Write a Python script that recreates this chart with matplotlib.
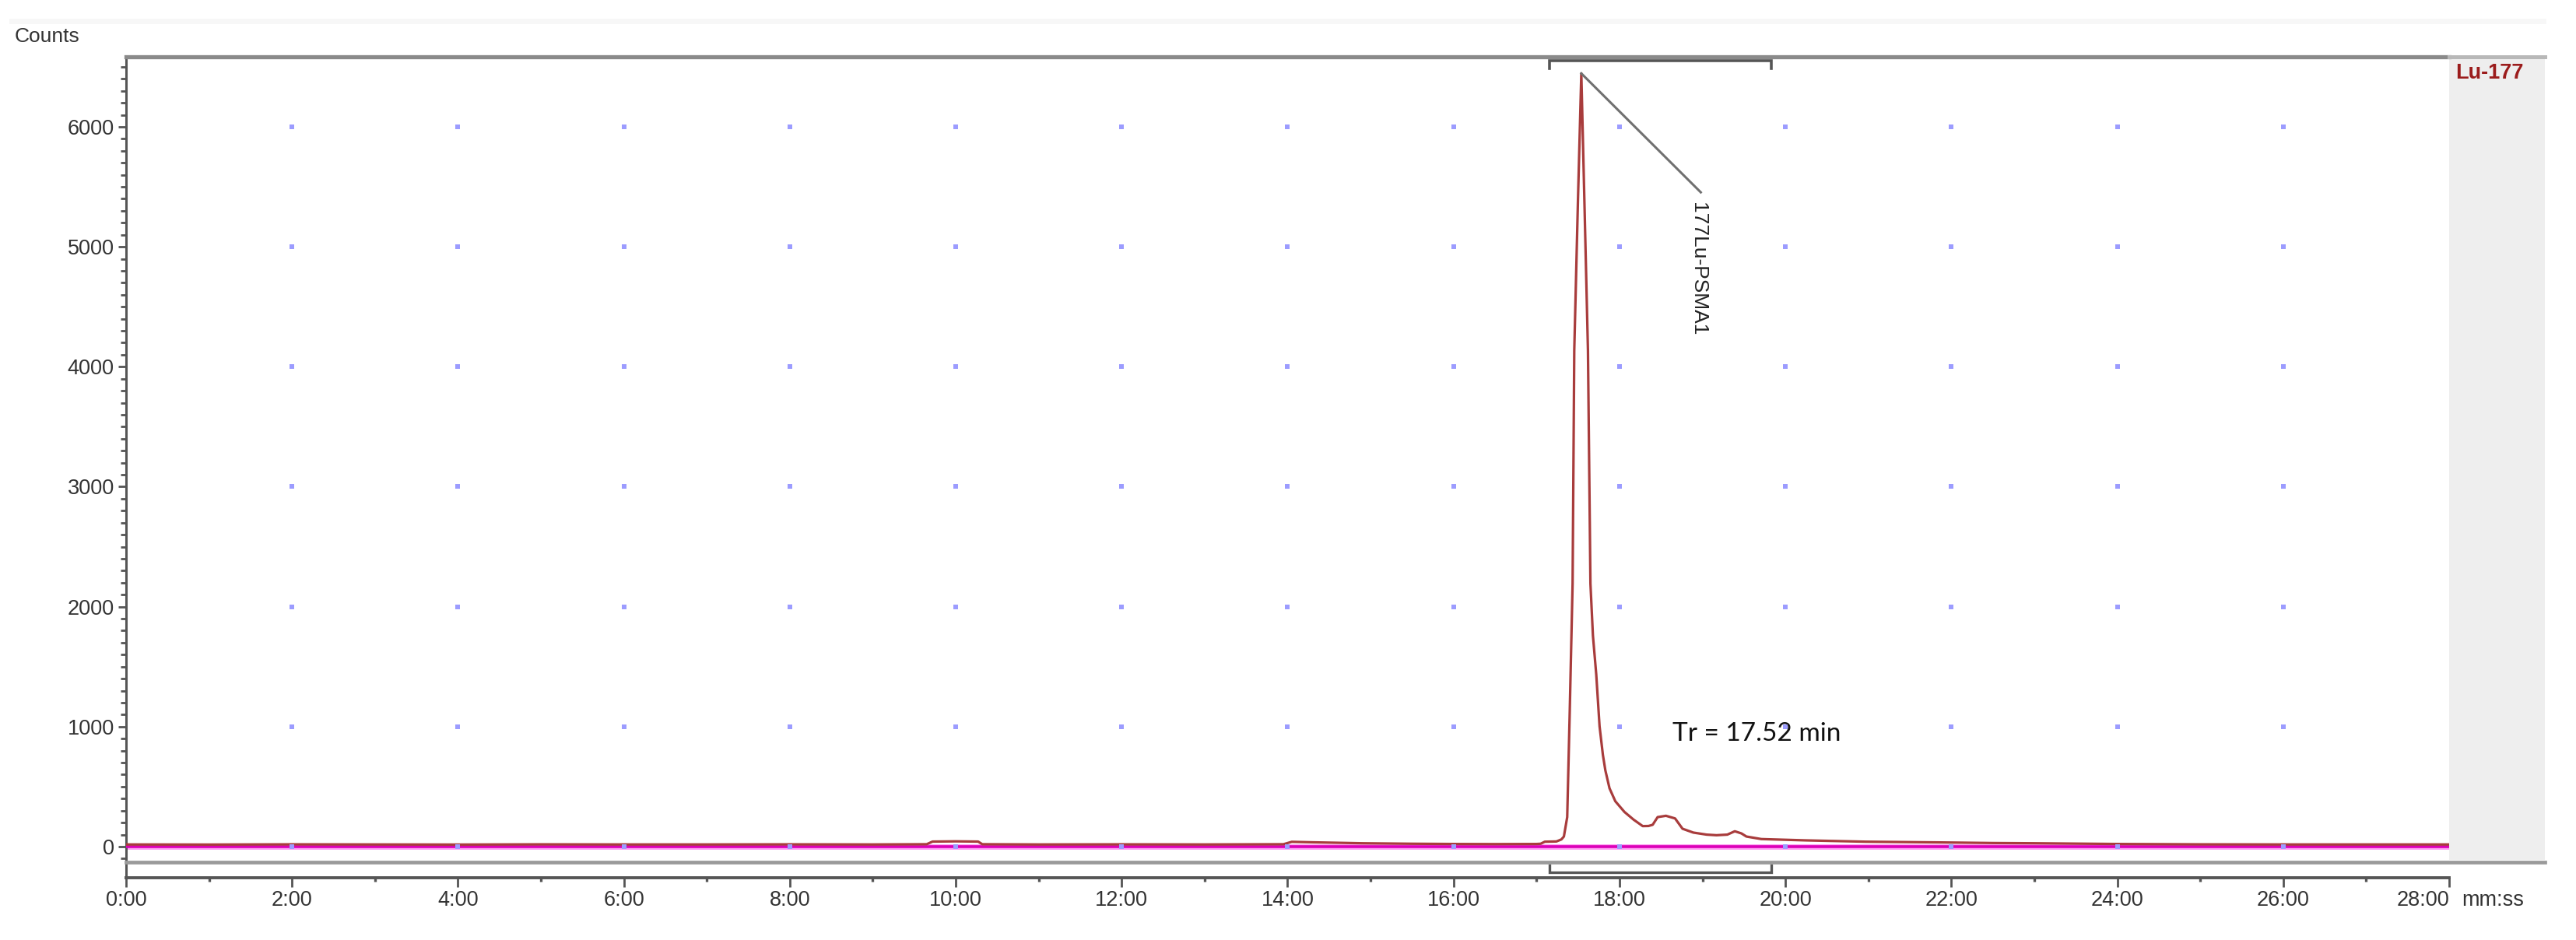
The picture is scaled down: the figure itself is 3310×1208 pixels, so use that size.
import matplotlib
matplotlib.use("Agg")
import matplotlib.pyplot as plt
from matplotlib.patches import Rectangle
from matplotlib.lines import Line2D
from matplotlib.ticker import MultipleLocator, FixedLocator

# chromatogram (time in minutes, counts)
time_min = [0.0, 1.0, 2.0, 3.0, 4.0, 5.0, 6.0, 7.0, 8.0, 9.0, 9.65, 9.72, 10.0,
            10.27, 10.32, 11.0, 12.0, 13.0, 13.95, 14.05, 14.3, 14.6, 14.9, 15.5,
            16.0, 16.5, 17.0, 17.05, 17.10, 17.24, 17.30, 17.33, 17.37, 17.40,
            17.435, 17.455, 17.50, 17.54, 17.58, 17.62, 17.65, 17.68, 17.72,
            17.76, 17.80, 17.83, 17.88, 17.95, 18.06, 18.17, 18.28, 18.35, 18.40,
            18.46, 18.56, 18.67, 18.76, 18.89, 19.05, 19.17, 19.30, 19.39, 19.47,
            19.53, 19.71, 20.25, 20.97, 21.87, 22.5, 23.0, 23.5, 24.0, 25.0,
            26.0, 27.0, 28.0]
counts = [18, 17, 19, 18, 17, 19, 18, 18, 19, 18, 20, 42, 44,
          42, 20, 18, 19, 18, 20, 40, 36, 32, 28, 24,
          22, 21, 22, 24, 41, 43, 60, 84, 246, 1111,
          2192, 4137, 5400, 6445, 5300, 4137, 2192, 1759, 1435,
          1003, 765, 635, 486, 378, 289, 225, 171, 172, 182,
          246, 257, 235, 149, 117, 100, 95, 100, 128, 110,
          84, 63, 52, 41, 35, 30, 28, 25, 22, 19,
          18, 18, 18]

baseline_t = [0.0, 28.0]
baseline_c = [0, 0]

peak_name = "177Lu-PSMA1"
peak_apex = (17.54, 6445)
peak_window = (17.16, 19.83)
tr_label = "Tr = 17.52 min"
channel = "Lu-177"

x_ticks = list(range(0, 29, 2))
x_labels = ["%d:00" % m for m in x_ticks]
y_ticks = list(range(0, 7000, 1000))
grid_x = list(range(2, 27, 2))
grid_y = list(range(0, 7000, 1000))

W, H = 3310, 1208
fig = plt.figure(figsize=(W / 100, H / 100), dpi=100)
plt.rcParams['font.family'] = ['Liberation Sans', 'DejaVu Sans']

def fx(px):
    return px / W

def fy(py):
    return 1 - py / H

ax = fig.add_axes([fx(162), fy(1128), fx(3147) - fx(162), fy(73) - fy(1128)])
ax.set_xlim(0, 28)
ax.set_ylim(-259.5, 6583.6)

# right grey side panel and window bits
fig.add_artist(Rectangle((fx(3147), fy(1105)), fx(3270) - fx(3147), fy(75) - fy(1105),
                         transform=fig.transFigure, facecolor='#eeeeee', edgecolor='none', zorder=0))
fig.add_artist(Line2D([fx(15), fx(3268)], [fy(27), fy(27)], transform=fig.transFigure,
                      color='#f7f7f7', lw=5))
fig.add_artist(Line2D([fx(3147), fx(3270)], [fy(73), fy(73)], transform=fig.transFigure,
                      color='#b8b8b8', lw=3.6))
fig.add_artist(Line2D([fx(162), fx(3270)], [fy(1108), fy(1108)], transform=fig.transFigure,
                      color='#9a9a9a', lw=3.4, zorder=5))

# baseline and trace
ax.plot(baseline_t, baseline_c, color='#ff9cf2', lw=5.0, zorder=2, solid_capstyle='butt')
ax.plot(baseline_t, baseline_c, color='#dc00b8', lw=2.6, zorder=3, solid_capstyle='butt')
ax.plot(time_min, counts, color='#a83c3c', lw=2.3, zorder=4)

# grid dots
gx = [x for x in grid_x for _ in grid_y]
gy = [y for _ in grid_x for y in grid_y]
ax.scatter(gx, gy, marker='s', s=13, color='#9c9cff', linewidths=0, zorder=6)

# peak label with leader line
ax.plot([peak_apex[0], 18.98], [peak_apex[1], 5454], color='#707070', lw=2.2, zorder=5)
ax.text(18.95, 5370, peak_name, rotation=270, ha='center', va='top', fontsize=19,
        color='#222222')
ax.text(18.64, 940, tr_label, ha='left', va='center', fontsize=24, family=['Lato', 'DejaVu Sans'],
        color='#111111')

# integration brackets
t0, t1 = peak_window
ax.plot([t0, t0, t1, t1], [6486, 6551, 6551, 6486], color='#555555', lw=2.6,
        clip_on=False, zorder=7, solid_joinstyle='miter')
ax.plot([t0, t0, t1, t1], [-156, -214, -214, -156], color='#555555', lw=2.4,
        clip_on=False, zorder=7, solid_joinstyle='miter')

# spines
ax.spines['right'].set_visible(False)
ax.spines['top'].set_color('#8a8a8a')
ax.spines['top'].set_linewidth(3.8)
ax.spines['left'].set_color('#555555')
ax.spines['left'].set_linewidth(2.2)
ax.spines['bottom'].set_color('#555555')
ax.spines['bottom'].set_linewidth(2.8)

# ticks
ax.set_xticks(x_ticks)
ax.set_xticklabels(x_labels)
ax.xaxis.set_minor_locator(MultipleLocator(1))
ax.set_yticks(y_ticks)
ax.set_yticklabels([str(v) for v in y_ticks])
ax.yaxis.set_minor_locator(FixedLocator([v for v in range(-100, 6600, 100) if v % 1000]))
ax.tick_params(axis='x', which='major', length=8.6, width=2.0, color='#555555',
               labelsize=19.5, labelcolor='#333333', pad=3)
ax.tick_params(axis='x', which='minor', length=3.5, width=2.4, color='#555555')
ax.tick_params(axis='y', which='major', length=7, width=2.0, color='#555555',
               labelsize=19.5, labelcolor='#333333', pad=4)
ax.tick_params(axis='y', which='minor', length=5, width=2.0, color='#555555')
ax.get_xticklabels()[-1].set_ha('right')

fig.text(fx(19), fy(47), "Counts", ha='left', va='center', fontsize=19, color='#333333')
fig.text(fx(3163), fy(1157), "mm:ss", ha='left', va='center', fontsize=19.5, color='#333333')
fig.text(fx(3155), fy(94), channel, ha='left', va='center', fontsize=19.5, fontweight='bold',
         color='#9b1c1c')

fig.savefig("out.png", dpi=100)
